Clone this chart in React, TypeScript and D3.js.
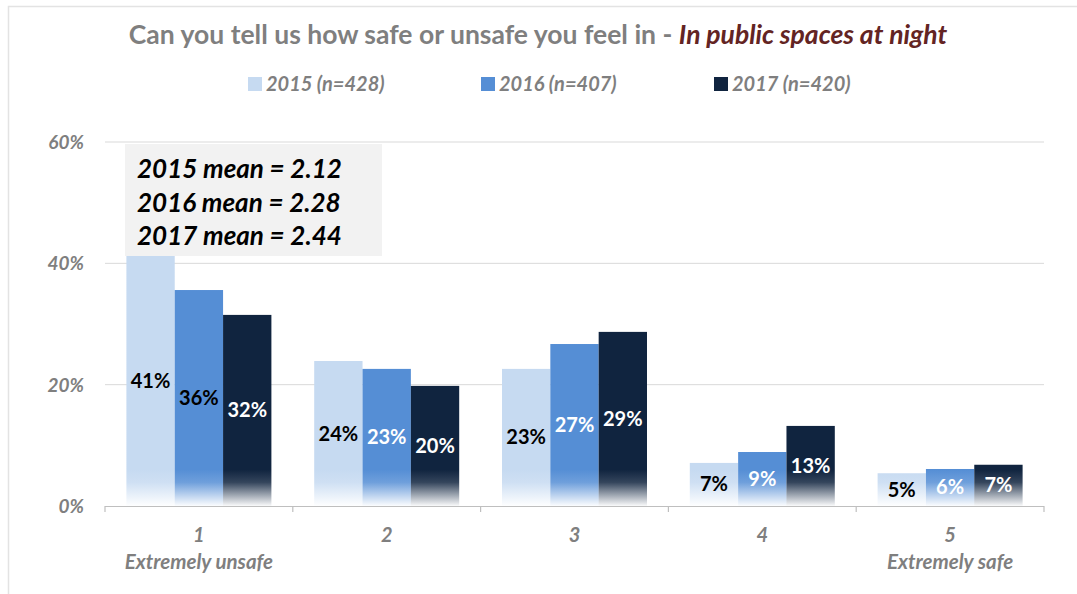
import React from "react";
import * as d3 from "d3";

const categories = ["1", "2", "3", "4", "5"];
const categorySubLabels = ["Extremely unsafe", "", "", "", "Extremely safe"];
const seriesNames = ["2015 (n=428)", "2016 (n=407)", "2017 (n=420)"];
const values2015 = [41.3, 23.9, 22.6, 7.1, 5.4];
const values2016 = [35.6, 22.6, 26.7, 8.9, 6.1];
const values2017 = [31.5, 19.8, 28.7, 13.2, 6.8];
const yTicks = [0, 20, 40, 60];
const meanLines = ["2015 mean = 2.12", "2016 mean = 2.28", "2017 mean = 2.44"];

const colors = ["#C6DAF1", "#558ED5", "#10243F"];
const labelColors2016 = ["#000000", "#FFFFFF", "#FFFFFF", "#FFFFFF", "#FFFFFF"];

const W = 1077;
const H = 594;
const FONT = "Lato, 'Open Sans', sans-serif";

export default function App() {
  const x0 = d3.scaleBand().domain(categories).range([105, 1044]).paddingInner(0).paddingOuter(0);
  const y = d3.scaleLinear().domain([0, 60]).range([506, 142]);
  const groupW = 145;
  const x1 = d3
    .scaleBand()
    .domain(seriesNames)
    .range([(x0.bandwidth() - groupW) / 2, (x0.bandwidth() + groupW) / 2])
    .padding(0);
  const series = [values2015, values2016, values2017];

  return (
    <svg
      width={W}
      height={H}
      style={{ position: "absolute", left: 0, top: 0, display: "block", background: "#fff" }}
      fontFamily={FONT}
    >
      <defs>
        {colors.map((c, i) => (
          <linearGradient
            key={i}
            id={`fade${i}`}
            gradientUnits="userSpaceOnUse"
            x1="0"
            x2="0"
            y1={y(6)}
            y2={y(0)}
          >
            <stop offset="0" stopColor={c} />
            <stop offset="0.35" stopColor={c} stopOpacity={0.85} />
            <stop offset="1" stopColor={c} stopOpacity={0.02} />
          </linearGradient>
        ))}
      </defs>
      <rect x={8.5} y={6.5} width={1200} height={700} fill="#fff" stroke="#E3E3E3" strokeWidth={1.5} />

      {/* Title */}
      <text x={538} y={44} textAnchor="middle" fontSize={26.5} fontWeight="bold">
        <tspan fill="#7F7F7F">Can you tell us how safe or unsafe you feel in - </tspan>
        <tspan fill="#632423" fontStyle="italic">In public spaces at night</tspan>
      </text>

      {/* Legend */}
      {seriesNames.map((s, i) => (
        <g key={s} transform={`translate(${248 + i * 233},0)`}>
          <rect x={0} y={77} width={14} height={14} fill={colors[i]} />
          <text x={18} y={91} fontSize={20} fontWeight="bold" fontStyle="italic" fill="#7F7F7F">
            {s}
          </text>
        </g>
      ))}

      {/* Gridlines */}
      {yTicks.map((t) => (
        <g key={t}>
          {t > 0 && <line x1={105} x2={1044} y1={y(t)} y2={y(t)} stroke="#D9D9D9" strokeWidth={1} />}
          <text
            x={84}
            y={y(t) + 7}
            textAnchor="end"
            fontSize={19}
            fontWeight="bold"
            fontStyle="italic"
            fill="#7F7F7F"
          >
            {t}%
          </text>
        </g>
      ))}

      {/* Bars */}
      {categories.map((c, ci) => (
        <g key={c} transform={`translate(${x0(c)},0)`}>
          {series.map((vals, si) => {
            const v = vals[ci];
            const bx = x1(seriesNames[si])!;
            const bw = x1.bandwidth();
            const top = y(v);
            const fill = si === 1 ? labelColors2016[ci] : si === 0 ? "#000000" : "#FFFFFF";
            return (
              <g key={si}>
                <rect x={bx} y={top} width={bw} height={y(0) - top} fill={`url(#fade${si})`} />
                <text
                  x={bx + bw / 2}
                  y={(top + y(0)) / 2 + 7}
                  textAnchor="middle"
                  fontSize={20}
                  fontWeight="bold"
                  fill={fill}
                >
                  {Math.round(v)}%
                </text>
              </g>
            );
          })}
        </g>
      ))}

      {/* X axis */}
      <line x1={105} x2={1044} y1={y(0) + 0.5} y2={y(0) + 0.5} stroke="#BFBFBF" strokeWidth={1.2} />
      {d3.range(categories.length + 1).map((i) => {
        const xx = 105 + i * x0.bandwidth();
        return <line key={i} x1={xx} x2={xx} y1={y(0)} y2={y(0) + 6} stroke="#BFBFBF" strokeWidth={1.2} />;
      })}
      {categories.map((c, ci) => (
        <g key={c}>
          <text
            x={x0(c)! + x0.bandwidth() / 2}
            y={542}
            textAnchor="middle"
            fontSize={20}
            fontWeight="bold"
            fontStyle="italic"
            fill="#7F7F7F"
          >
            {c}
          </text>
          {categorySubLabels[ci] && (
            <text
              x={x0(c)! + x0.bandwidth() / 2}
              y={569}
              textAnchor="middle"
              fontSize={20.5}
              fontWeight="bold"
              fontStyle="italic"
              fill="#7F7F7F"
            >
              {categorySubLabels[ci]}
            </text>
          )}
        </g>
      ))}

      {/* Mean box */}
      <rect x={125} y={144} width={257} height={112} fill="#F2F2F2" />
      {meanLines.map((m, i) => (
        <text
          key={m}
          x={137}
          y={178 + i * 33.5}
          fontSize={26}
          fontWeight="bold"
          fontStyle="italic"
          fill="#000"
        >
          {m}
        </text>
      ))}
    </svg>
  );
}
